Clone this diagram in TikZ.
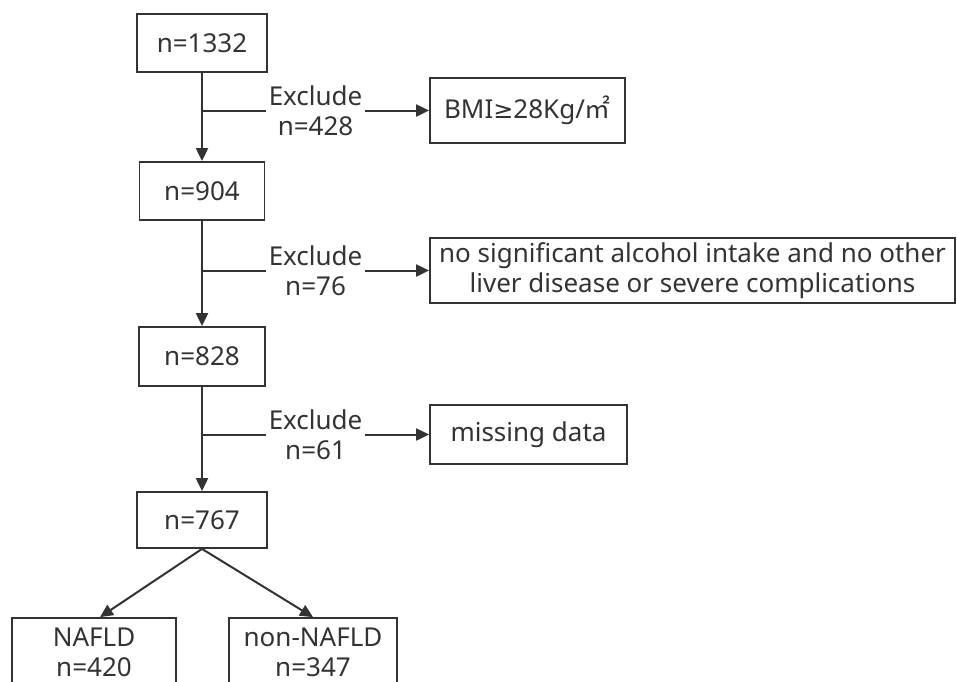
\documentclass[tikz,border=0pt]{standalone}
\usepackage{fontspec}
\setmainfont{Noto Sans}
\newfontfamily\cjk{Noto Sans CJK SC}
\newfontfamily\djv{DejaVu Sans}
\usetikzlibrary{arrows.meta,calc}
\definecolor{ink}{RGB}{51,51,51}
\begin{document}
\begin{tikzpicture}[x=1pt,y=-1pt,
  box/.style={draw=ink,line width=1.8pt,text=ink,align=center,inner sep=0pt,
    font=\fontsize{26}{30}\selectfont},
  lbl/.style={fill=white,text=ink,align=center,inner xsep=3pt,inner ysep=0pt,
    font=\fontsize{26}{30}\selectfont},
  arr/.style={draw=ink,line width=2pt,-{Triangle[length=13pt,width=12pt]}}]
\useasboundingbox (0,0) rectangle (957,681);
\clip (0,0) rectangle (957,681);
\node[box,minimum width=130,minimum height=58] (b1) at (202,43) {n=1332};
\node[box,minimum width=125,minimum height=58] (b2) at (202,191) {n=904};
\node[box,minimum width=126,minimum height=59] (b3) at (202,356.5) {n=828};
\node[box,minimum width=130,minimum height=56] (b4) at (202,520) {n=767};
\node[box,minimum width=195,minimum height=65] (e1) at (527.5,110.5) {BMI{\djv\fontsize{24}{30}\selectfont ≥}28Kg/{\cjk ㎡}};
\node[box,minimum width=525,minimum height=65] (e2) at (692.5,270.5) {no significant alcohol intake and no other\\liver disease or severe complications};
\node[box,minimum width=197,minimum height=59] (e3) at (528.5,434.5) {missing data};
\node[box,minimum width=164,minimum height=69] (o1) at (94,652.5) {NAFLD\\n=420};
\node[box,minimum width=168,minimum height=69] (o2) at (313,652.5) {non-NAFLD\\n=347};
\draw[arr] (b1) -- (b2);
\draw[arr] (b2) -- (b3);
\draw[arr] (b3) -- (b4);
\coordinate (j1) at (b1.south |- e1.west);
\coordinate (j2) at (b2.south |- e2.west);
\coordinate (j3) at (b3.south |- e3.west);
\draw[arr] (j1) -- node[lbl] (l1) {Exclude\\n=428} (e1.west);
\draw[arr] (j2) -- node[lbl] (l2) {Exclude\\n=76} (e2.west);
\draw[arr] (j3) -- node[lbl] (l3) {Exclude\\n=61} (e3.west);
\draw[arr] (b4.south) -- ($(o1.north)+(6,0)$);
\draw[arr] (b4.south) -- (o2.north);
\end{tikzpicture}
\end{document}
